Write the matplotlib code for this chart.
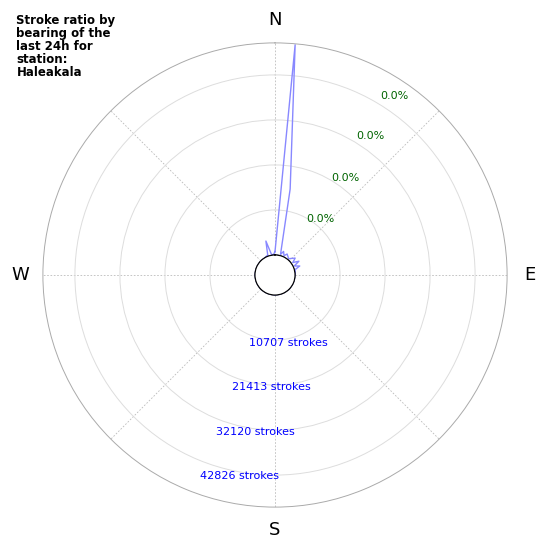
import numpy as np
import matplotlib
matplotlib.use("Agg")
import matplotlib.pyplot as plt

# bearing (deg) and stroke counts
BEARINGS = [0, 5, 10, 15, 20, 25, 30, 40, 50, 55, 60, 65, 70, 75, 90, 180, 270, 330, 340, 345, 350, 355]
STROKES = [800, 50200, 16000, 300, 1200, 300, 1000, 300, 1500, 400, 1800, 300, 1500, 200,
           0, 0, 0, 0, 300, 3600, 300, 0]
RING_VALUES = [10707, 21413, 32120, 42826]
PCT_LABELS = ["0.0%", "0.0%", "0.0%", "0.0%"]
PCT_POS = [(39, 12370), (36, 23790), (34.5, 35210), (33.6, 46390)]
STROKE_POS = [(169, 11660), (182, 21890), (187, 32830), (190, 43780)]

fig = plt.figure(figsize=(5.5, 5.5), dpi=100)
ax = fig.add_axes([0.078, 0.078, 0.844, 0.844], projection="polar")
ax.set_theta_zero_location("N")
ax.set_theta_direction(-1)
ax.set_ylim(0, 50440)
ax.set_rorigin(-4760)

th = np.deg2rad(BEARINGS + [360])
r = STROKES + [STROKES[0]]
ax.plot(th, r, color="#8888ff", linewidth=1.0)
circ = np.linspace(0, 2 * np.pi, 200)
ax.plot(circ, np.zeros_like(circ), color="#333366", linewidth=0.9)

ax.set_yticks(RING_VALUES)
ax.set_yticklabels([])
ax.set_xticks(np.deg2rad(np.arange(0, 360, 45)))
ax.set_xticklabels(["N", "", "E", "", "S", "", "W", ""], fontsize=13)
ax.tick_params(axis="x", pad=6)
ax.grid(True, color="#bbbbbb", linestyle=(0, (2, 2)), linewidth=0.6)
ax.yaxis.grid(True, linestyle="-", color="#dddddd", linewidth=0.7)
ax.spines["polar"].set_color("#aaaaaa")
ax.spines["polar"].set_linewidth(0.7)

for (a, v), lab in zip(PCT_POS, PCT_LABELS):
    ax.text(np.deg2rad(a), v, lab, color="darkgreen", fontsize=8,
            ha="center", va="center")
for (a, v), n in zip(STROKE_POS, RING_VALUES):
    ax.text(np.deg2rad(a), v, f"{n} strokes", color="blue", fontsize=8,
            ha="center", va="center")

fig.text(0.03, 0.975, "Stroke ratio by\nbearing of the\nlast 24h for\nstation:\nHaleakala",
         fontsize=8.5, fontweight="bold", va="top", ha="left", linespacing=1.0)

fig.savefig("out.png", dpi=100, facecolor="white")
